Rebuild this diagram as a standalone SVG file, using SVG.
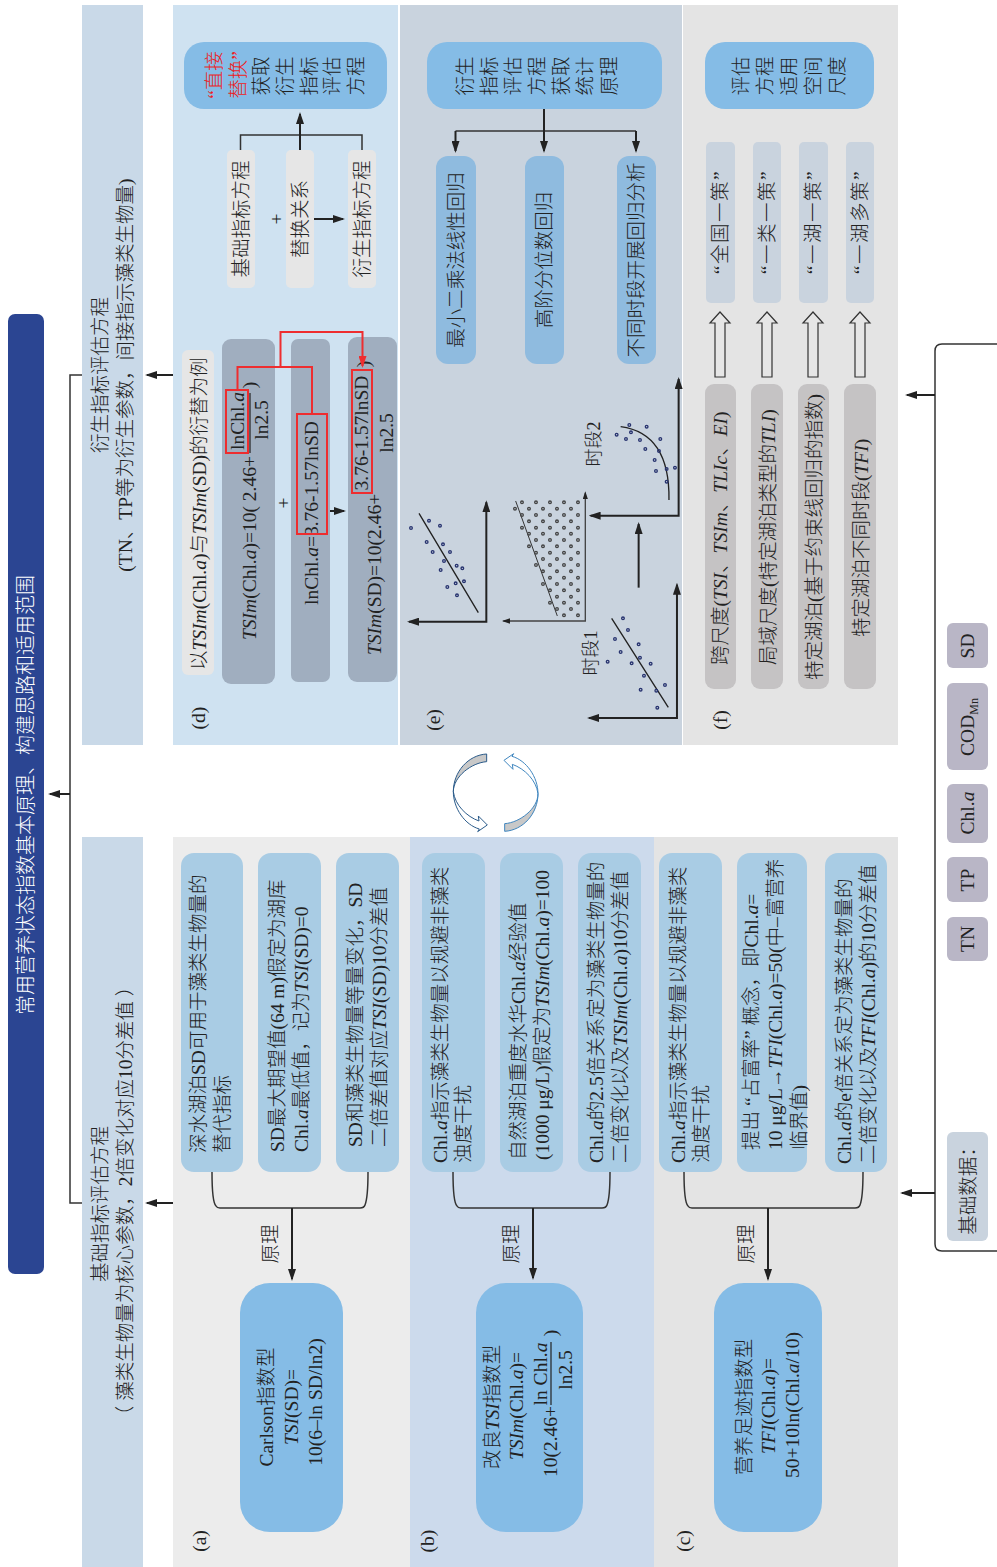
<svg xmlns="http://www.w3.org/2000/svg" width="997" height="1567" viewBox="0 0 997 1567">
<style>
text{font-family:"Liberation Serif","Noto Sans CJK SC",serif;font-size:19.5px;fill:#222;font-weight:300}
.m{text-anchor:middle}
.i{font-style:italic}
.red{fill:#ed1c24}
.w{fill:#fff}
.q{letter-spacing:1.5px}
.wire{fill:none;stroke:#333;stroke-width:1.5}
.arr{fill:none;stroke:#222;stroke-width:2;marker-end:url(#ah)}
.rl{fill:none;stroke:#ee2d2f;stroke-width:2}
.pb{fill:#85bce6}
.lb{fill:#a9cce4}
.eb{fill:#8fbbdf}
.lg{fill:#e6e6e6}
.sl{fill:#a0aebf}
.ch{fill:#c9d3de}
.gr{fill:#c5c3c4}
.pu{fill:#b9b6c6}
.d1{fill:none;stroke:#27336f;stroke-width:4}
.d2{fill:none;stroke:#444;stroke-width:4}
.ax{fill:none;stroke:#222;stroke-width:6;marker-end:url(#ah);marker-start:url(#ah)}
.ax2{fill:none;stroke:#444;stroke-width:4;marker-end:url(#ah);marker-start:url(#ah)}
.ax3{fill:none;stroke:#222;stroke-width:6;marker-end:url(#ah)}
</style>
<defs>
<marker id="ah" viewBox="0 0 12 8" refX="10" refY="4" markerWidth="6" markerHeight="4" orient="auto-start-reverse" markerUnits="strokeWidth"><path d="M0,0L12,4L0,8Z" fill="#222"/></marker>
<marker id="ahr" viewBox="0 0 12 8" refX="10" refY="4" markerWidth="6" markerHeight="4" orient="auto" markerUnits="strokeWidth"><path d="M0,0L12,4L0,8Z" fill="#ee2d2f"/></marker>
<path id="ha" d="M-5,377V323H-10L0,312L10,323H5V377Z" fill="#e6e6e6" stroke="#333" stroke-width="1.2"/>
<path id="cy" d="M170,42C115,45 70,95 70,155C70,110 125,68 170,65Z" fill="#c8c8c8"/>
<path id="cz" d="M70,155C70,205 105,255 148,267L143,275L172,255L145,228L147,243C110,230 75,195 70,155Z" fill="#fff"/>
</defs>

<g id="panels">
<rect x="8" y="314" width="36" height="960" rx="7" fill="#2b4592"/>
<rect x="82" y="5" width="61" height="740" fill="#c9d9e8"/>
<rect x="82" y="837" width="61" height="730" fill="#c9d9e8"/>
<rect x="173" y="837" width="237" height="730" fill="#ececec"/>
<rect x="410" y="837" width="244" height="730" fill="#ccdaec"/>
<rect x="654" y="837" width="244" height="730" fill="#e4e4e4"/>
<rect x="173" y="5" width="225" height="740" fill="#cfe2f1"/>
<rect x="400" y="5" width="282" height="740" fill="#c9d3de"/>
<rect x="683" y="5" width="215" height="740" fill="#e4e4e4"/>
</g>

<g id="cycle" transform="translate(430,740) scale(.3333)">
<g stroke="#2a5a8a" stroke-width="3"><use href="#cy"/><use href="#cz"/></g>
<g stroke="#3f86bf" stroke-width="3" transform="rotate(180 197 158)"><use href="#cy"/><use href="#cz"/></g>
</g>

<g id="title"><text class="m w" style="font-size:20px" transform="translate(33,795) rotate(-90)">常用营养状态指数基本原理、构建思路和适用范围</text></g>
<g id="head-d">
<text class="m" transform="translate(107,375) rotate(-90)">衍生指标评估方程</text>
<text class="m" transform="translate(132,375) rotate(-90)">(TN、TP等为衍生参数，间接指示藻类生物量)</text>
</g>
<g id="head-b">
<text class="m" transform="translate(107,1204) rotate(-90)">基础指标评估方程</text>
<text class="m" transform="translate(132,1201) rotate(-90)">（ 藻类生物量为核心参数，2倍变化对应10分差值 ）</text>
</g>

<g id="a">
<text class="m" transform="translate(206,1541) rotate(-90)">(a)</text>
<g id="a1"><rect class="lb" x="181" y="853" width="62" height="319" rx="13"/>
<text transform="translate(205,1153) rotate(-90)">深水湖泊SD可用于藻类生物量的</text>
<text transform="translate(229,1153) rotate(-90)">替代指标</text></g>
<g id="a2"><rect class="lb" x="258" y="853" width="63" height="319" rx="13"/>
<text transform="translate(284,1152) rotate(-90)">SD最大期望值(64 m)假定为湖库</text>
<text transform="translate(308,1152) rotate(-90)">Chl.<tspan class="i">a</tspan>最低值，记为<tspan class="i">TSI</tspan>(SD)=0</text></g>
<g id="a3"><rect class="lb" x="336" y="853" width="63" height="319" rx="13"/>
<text transform="translate(362,1147) rotate(-90)">SD和藻类生物量等量变化，SD</text>
<text transform="translate(386,1147) rotate(-90)">二倍差值对应<tspan class="i">TSI</tspan>(SD)10分差值</text></g>
<text class="m" transform="translate(277,1244) rotate(-90)">原理</text>
<g id="a4"><rect class="pb" x="240" y="1283" width="103" height="249" rx="30"/>
<text class="m" transform="translate(273,1407) rotate(-90)">Carlson指数型</text>
<text class="m" transform="translate(298,1407) rotate(-90)"><tspan class="i">TSI</tspan>(SD)=</text>
<text class="m" transform="translate(322,1402) rotate(-90)">10(6–ln SD/ln2)</text></g>
</g>

<g id="b">
<text class="m" transform="translate(434,1541) rotate(-90)">(b)</text>
<g id="b1"><rect class="lb" x="422" y="853" width="63" height="319" rx="13"/>
<text transform="translate(447,1163) rotate(-90)">Chl.<tspan class="i">a</tspan>指示藻类生物量以规避非藻类</text>
<text transform="translate(470,1163) rotate(-90)">浊度干扰</text></g>
<g id="b2"><rect class="lb" x="500" y="853" width="63" height="319" rx="13"/>
<text transform="translate(525,1160) rotate(-90)">自然湖泊重度水华Chl.<tspan class="i">a</tspan>经验值</text>
<text transform="translate(549,1160) rotate(-90)">(1000 μg/L)假定为<tspan class="i">TSIm</tspan>(Chl.<tspan class="i">a</tspan>)=100</text></g>
<g id="b3"><rect class="lb" x="578" y="853" width="63" height="319" rx="13"/>
<text transform="translate(603,1163) rotate(-90)">Chl.<tspan class="i">a</tspan>的2.5倍关系定为藻类生物量的</text>
<text transform="translate(627,1163) rotate(-90)">二倍变化以及<tspan class="i">TSIm</tspan>(Chl.<tspan class="i">a</tspan>)10分差值</text></g>
<text class="m" transform="translate(518,1244) rotate(-90)">原理</text>
<g id="b4"><rect class="pb" x="476" y="1283" width="107" height="249" rx="30"/>
<text class="m" transform="translate(499,1407) rotate(-90)">改良<tspan class="i">TSI</tspan>指数型</text>
<text class="m" transform="translate(523,1406) rotate(-90)"><tspan class="i">TSIm</tspan>(Chl.<tspan class="i">a</tspan>)=</text>
<text transform="translate(557,1477) rotate(-90)">10(2.46+</text>
<text class="m" transform="translate(547,1374) rotate(-90)">ln Chl.<tspan class="i">a</tspan></text>
<path d="M551,1342V1405" stroke="#222" stroke-width="1.2" fill="none"/>
<text class="m" transform="translate(572,1370) rotate(-90)">ln2.5</text>
<text class="m" transform="translate(557,1333) rotate(-90)">)</text></g>
</g>

<g id="c">
<text class="m" transform="translate(690,1541) rotate(-90)">(c)</text>
<g id="c1"><rect class="lb" x="659" y="853" width="63" height="319" rx="13"/>
<text transform="translate(685,1163) rotate(-90)">Chl.<tspan class="i">a</tspan>指示藻类生物量以规避非藻类</text>
<text transform="translate(708,1163) rotate(-90)">浊度干扰</text></g>
<g id="c2"><rect class="lb" x="737" y="853" width="70" height="319" rx="13"/>
<text transform="translate(758,1150) rotate(-90)">提出 “占富率” 概念，即Chl.<tspan class="i">a</tspan>=</text>
<text transform="translate(782,1150) rotate(-90)">10 μg/L→<tspan class="i">TFI</tspan>(Chl.<tspan class="i">a</tspan>)=50(中–富营养</text>
<text transform="translate(806,1150) rotate(-90)">临界值)</text></g>
<g id="c3"><rect class="lb" x="825" y="853" width="62" height="319" rx="13"/>
<text transform="translate(851,1164) rotate(-90)">Chl.<tspan class="i">a</tspan>的e倍关系定为藻类生物量的</text>
<text transform="translate(875,1164) rotate(-90)">二倍变化以及<tspan class="i">TFI</tspan>(Chl.<tspan class="i">a</tspan>)的10分差值</text></g>
<text class="m" transform="translate(753,1244) rotate(-90)">原理</text>
<g id="c4"><rect class="pb" x="714" y="1283" width="108" height="249" rx="30"/>
<text class="m" transform="translate(751,1407) rotate(-90)">营养足迹指数型</text>
<text class="m" transform="translate(775,1406) rotate(-90)"><tspan class="i">TFI</tspan>(Chl.<tspan class="i">a</tspan>)=</text>
<text class="m" transform="translate(799,1405) rotate(-90)">50+10ln(Chl.<tspan class="i">a</tspan>/10)</text></g>
</g>

<g id="d">
<text class="m" transform="translate(205,718) rotate(-90)">(d)</text>
<g id="d1"><rect class="pb" x="184" y="42" width="203" height="67" rx="20"/>
<text class="m red" transform="translate(221,75) rotate(-90)">“直接</text>
<text class="m red" transform="translate(245,75) rotate(-90)">替换”</text>
<text class="m" transform="translate(268,76) rotate(-90)">获取</text>
<text class="m" transform="translate(292,76) rotate(-90)">衍生</text>
<text class="m" transform="translate(316,76) rotate(-90)">指标</text>
<text class="m" transform="translate(339,76) rotate(-90)">评估</text>
<text class="m" transform="translate(363,76) rotate(-90)">方程</text></g>
<g id="d2"><rect class="lg" x="227" y="150" width="28" height="138" rx="5"/><text class="m" transform="translate(248,219) rotate(-90)">基础指标方程</text></g>
<g id="d3"><rect class="lg" x="286" y="150" width="28" height="138" rx="5"/><text class="m" transform="translate(307,219) rotate(-90)">替换关系</text></g>
<g id="d4"><rect class="lg" x="348" y="150" width="28" height="138" rx="5"/><text class="m" transform="translate(369,219) rotate(-90)">衍生指标方程</text></g>
<text class="m" transform="translate(282.500,219) rotate(-90)">+</text>
<g id="d5"><rect class="lg" x="182" y="350" width="32" height="325" rx="6"/>
<text transform="translate(206,670) rotate(-90)">以<tspan class="i">TSIm</tspan>(Chl.<tspan class="i">a</tspan>)与<tspan class="i">TSIm</tspan>(SD)的衍替为例</text></g>
<g id="d6"><rect class="sl" x="222" y="339" width="53" height="345" rx="9"/>
<text transform="translate(256,640) rotate(-90)"><tspan class="i">TSIm</tspan>(Chl.<tspan class="i">a</tspan>)=10( 2.46+</text>
<text class="m" transform="translate(244,421) rotate(-90)">lnChl.<tspan class="i">a</tspan></text>
<path d="M250,393V453" stroke="#222" stroke-width="1.2" fill="none"/>
<text class="m" transform="translate(268,420) rotate(-90)">ln2.5</text>
<text class="m" transform="translate(256,385) rotate(-90)">)</text></g>
<text class="m" transform="translate(289.500,503) rotate(-90)">+</text>
<g id="d7"><rect class="sl" x="291" y="339" width="39" height="343" rx="7"/>
<text transform="translate(318,605) rotate(-90)">lnChl.<tspan class="i">a</tspan>=3.76-1.57lnSD</text></g>
<g id="d8"><rect class="sl" x="348" y="337" width="49" height="345" rx="9"/>
<text transform="translate(381,655) rotate(-90)"><tspan class="i">TSIm</tspan>(SD)=10(2.46+</text>
<text class="m" transform="translate(368,433) rotate(-90)">3.76-1.57lnSD</text>
<path d="M372,373V493" stroke="#222" stroke-width="1.2" fill="none"/>
<text class="m" transform="translate(393,433) rotate(-90)">ln2.5</text>
<text class="m" transform="translate(370,364) rotate(-90)">)</text></g>
<g fill="none" stroke="#ee2d2f" stroke-width="2">
<rect x="226" y="390" width="22" height="63"/>
<rect x="297" y="414" width="30" height="120"/>
<rect x="352" y="370" width="20" height="123"/>
</g>
</g>

<g id="e">
<text class="m" transform="translate(440,720) rotate(-90)">(e)</text>
<g id="e1"><rect class="pb" x="427" y="42" width="235" height="67" rx="20"/>
<text class="m" transform="translate(472,76) rotate(-90)">衍生</text>
<text class="m" transform="translate(496,76) rotate(-90)">指标</text>
<text class="m" transform="translate(520,76) rotate(-90)">评估</text>
<text class="m" transform="translate(544,76) rotate(-90)">方程</text>
<text class="m" transform="translate(568,76) rotate(-90)">获取</text>
<text class="m" transform="translate(592,76) rotate(-90)">统计</text>
<text class="m" transform="translate(616,76) rotate(-90)">原理</text></g>
<g id="e2"><rect class="eb" x="436" y="156" width="40" height="208" rx="12"/><text class="m" transform="translate(463,260) rotate(-90)">最小二乘法线性回归</text></g>
<g id="e3"><rect class="eb" x="525" y="156" width="39" height="208" rx="12"/><text class="m" transform="translate(551,260) rotate(-90)">高阶分位数回归</text></g>
<g id="e4"><rect class="eb" x="617" y="156" width="39" height="208" rx="12"/><text class="m" transform="translate(643,260) rotate(-90)">不同时段开展回归分析</text></g>
<text class="m" style="font-size:18px" transform="translate(597,653) rotate(-90)">时段1</text>
<text class="m" style="font-size:18px" transform="translate(600,444) rotate(-90)">时段2</text>
<g id="plots" transform="translate(400,360) scale(.3333)">
<path class="ax" d="M259,427V785H27"/>
<path d="M57,460L235,758M635,775L805,1042" fill="none" stroke="#222" stroke-width="4"/>
<g class="d1"><circle cx="33" cy="504" r="4"/><circle cx="87" cy="482" r="4"/><circle cx="120" cy="497" r="4"/><circle cx="80" cy="546" r="4"/><circle cx="129" cy="553" r="4"/><circle cx="98" cy="576" r="4"/><circle cx="150" cy="576" r="4"/><circle cx="132" cy="603" r="4"/><circle cx="122" cy="630" r="4"/><circle cx="170" cy="617" r="4"/><circle cx="187" cy="625" r="4"/><circle cx="192" cy="664" r="4"/><circle cx="167" cy="670" r="4"/><circle cx="142" cy="681" r="4"/><circle cx="171" cy="706" r="4"/></g>
<path class="ax2" d="M556,398V783H310"/>
<path d="M347,423L472,768" fill="none" stroke="#333" stroke-width="3"/>
<g class="d2">
<circle cx="534" cy="427" r="4"/><circle cx="534" cy="465" r="4"/><circle cx="534" cy="503" r="4"/><circle cx="534" cy="540" r="4"/><circle cx="534" cy="578" r="4"/><circle cx="534" cy="615" r="4"/><circle cx="534" cy="653" r="4"/><circle cx="534" cy="691" r="4"/><circle cx="534" cy="728" r="4"/><circle cx="534" cy="766" r="4"/>
<circle cx="513" cy="446" r="4"/><circle cx="513" cy="484" r="4"/><circle cx="513" cy="521" r="4"/><circle cx="513" cy="559" r="4"/><circle cx="513" cy="597" r="4"/><circle cx="513" cy="634" r="4"/><circle cx="513" cy="672" r="4"/><circle cx="513" cy="710" r="4"/><circle cx="513" cy="747" r="4"/>
<circle cx="492" cy="427" r="4"/><circle cx="492" cy="465" r="4"/><circle cx="492" cy="503" r="4"/><circle cx="492" cy="540" r="4"/><circle cx="492" cy="578" r="4"/><circle cx="492" cy="615" r="4"/><circle cx="492" cy="653" r="4"/><circle cx="492" cy="691" r="4"/><circle cx="492" cy="728" r="4"/><circle cx="492" cy="766" r="4"/>
<circle cx="471" cy="446" r="4"/><circle cx="471" cy="484" r="4"/><circle cx="471" cy="521" r="4"/><circle cx="471" cy="559" r="4"/><circle cx="471" cy="597" r="4"/><circle cx="471" cy="634" r="4"/><circle cx="471" cy="672" r="4"/><circle cx="471" cy="710" r="4"/><circle cx="471" cy="747" r="4"/>
<circle cx="450" cy="427" r="4"/><circle cx="450" cy="465" r="4"/><circle cx="450" cy="503" r="4"/><circle cx="450" cy="540" r="4"/><circle cx="450" cy="578" r="4"/><circle cx="450" cy="615" r="4"/><circle cx="450" cy="653" r="4"/><circle cx="450" cy="691" r="4"/><circle cx="450" cy="728" r="4"/>
<circle cx="429" cy="446" r="4"/><circle cx="429" cy="484" r="4"/><circle cx="429" cy="521" r="4"/><circle cx="429" cy="559" r="4"/><circle cx="429" cy="597" r="4"/><circle cx="429" cy="634" r="4"/><circle cx="429" cy="672" r="4"/>
<circle cx="408" cy="427" r="4"/><circle cx="408" cy="465" r="4"/><circle cx="408" cy="503" r="4"/><circle cx="408" cy="540" r="4"/><circle cx="408" cy="578" r="4"/><circle cx="408" cy="615" r="4"/>
<circle cx="387" cy="446" r="4"/><circle cx="387" cy="484" r="4"/><circle cx="387" cy="521" r="4"/><circle cx="387" cy="559" r="4"/>
<circle cx="366" cy="427" r="4"/><circle cx="366" cy="465" r="4"/><circle cx="366" cy="503" r="4"/>
<circle cx="345" cy="446" r="4"/>
</g>
<path class="ax" d="M831,674V1074H567"/>
<g class="d1"><circle cx="669" cy="775" r="4"/><circle cx="684" cy="810" r="4"/><circle cx="645" cy="837" r="4"/><circle cx="716" cy="853" r="4"/><circle cx="662" cy="876" r="4"/><circle cx="720" cy="893" r="4"/><circle cx="623" cy="905" r="4"/><circle cx="695" cy="910" r="4"/><circle cx="752" cy="911" r="4"/><circle cx="732" cy="947" r="4"/><circle cx="795" cy="975" r="4"/><circle cx="722" cy="989" r="4"/><circle cx="769" cy="992" r="4"/><circle cx="772" cy="1043" r="4"/></g>
<path class="ax" d="M836,57V467H572"/>
<path d="M662,200Q810,220 807,420" fill="none" stroke="#222" stroke-width="4"/>
<g class="d1"><circle cx="688" cy="195" r="4"/><circle cx="740" cy="200" r="4"/><circle cx="650" cy="224" r="4"/><circle cx="693" cy="217" r="4"/><circle cx="678" cy="237" r="4"/><circle cx="720" cy="240" r="4"/><circle cx="781" cy="237" r="4"/><circle cx="736" cy="267" r="4"/><circle cx="777" cy="273" r="4"/><circle cx="764" cy="300" r="4"/><circle cx="800" cy="327" r="4"/><circle cx="825" cy="323" r="4"/><circle cx="768" cy="333" r="4"/><circle cx="800" cy="365" r="4"/></g>
<path class="ax3" d="M716,683V492"/>
</g>
</g>

<g id="f">
<text class="m" transform="translate(727,720) rotate(-90)">(f)</text>
<g id="f1"><rect class="pb" x="705" y="42" width="169" height="67" rx="20"/>
<text class="m" transform="translate(748,76) rotate(-90)">评估</text>
<text class="m" transform="translate(772,76) rotate(-90)">方程</text>
<text class="m" transform="translate(796,76) rotate(-90)">适用</text>
<text class="m" transform="translate(820,76) rotate(-90)">空间</text>
<text class="m" transform="translate(844,76) rotate(-90)">尺度</text></g>
<g id="f2"><rect class="ch" x="706" y="142" width="29" height="161" rx="5"/><text class="m q" transform="translate(727,222) rotate(-90)">“全国一策”</text></g>
<g id="f3"><rect class="ch" x="753" y="142" width="28" height="161" rx="5"/><text class="m q" transform="translate(774,222) rotate(-90)">“一类一策”</text></g>
<g id="f4"><rect class="ch" x="799" y="142" width="29" height="161" rx="5"/><text class="m q" transform="translate(820,222) rotate(-90)">“一湖一策”</text></g>
<g id="f5"><rect class="ch" x="846" y="142" width="28" height="161" rx="5"/><text class="m q" transform="translate(867,222) rotate(-90)">“一湖多策”</text></g>
<g id="f6"><rect class="gr" x="705" y="384" width="31" height="305" rx="9"/>
<text transform="translate(727,665) rotate(-90)">跨尺度(<tspan class="i">TSI</tspan>、<tspan class="i">TSIm</tspan>、<tspan class="i">TLIc</tspan>、<tspan class="i">EI</tspan>)</text></g>
<g id="f7"><rect class="gr" x="751" y="384" width="32" height="305" rx="9"/>
<text transform="translate(775,665) rotate(-90)">局域尺度(特定湖泊类型的<tspan class="i">TLI</tspan>)</text></g>
<g id="f8"><rect class="gr" x="798" y="384" width="31" height="305" rx="9"/>
<text transform="translate(821,680) rotate(-90)">特定湖泊(基于约束线回归的指数)</text></g>
<g id="f9"><rect class="gr" x="844" y="384" width="32" height="305" rx="9"/>
<text transform="translate(868,637) rotate(-90)">特定湖泊不同时段(<tspan class="i">TFI</tspan>)</text></g>
</g>

<g id="data">
<g id="g0"><rect class="ch" x="947" y="1132" width="41" height="109" rx="6"/><text class="m" transform="translate(975,1186) rotate(-90)">基础数据：</text></g>
<g id="g1"><rect class="pu" x="947" y="917" width="41" height="44" rx="6"/><text class="m" transform="translate(974,939) rotate(-90)">TN</text></g>
<g id="g2"><rect class="pu" x="947" y="857" width="41" height="45" rx="6"/><text class="m" transform="translate(974,880) rotate(-90)">TP</text></g>
<g id="g3"><rect class="pu" x="947" y="784" width="41" height="59" rx="6"/><text class="m" transform="translate(974,813) rotate(-90)">Chl.<tspan class="i">a</tspan></text></g>
<g id="g4"><rect class="pu" x="947" y="683" width="41" height="87" rx="6"/><text class="m" transform="translate(974,727) rotate(-90)">COD<tspan dy="4" style="font-size:12px">Mn</tspan></text></g>
<g id="g5"><rect class="pu" x="947" y="623" width="41" height="45" rx="6"/><text class="m" transform="translate(974,646) rotate(-90)">SD</text></g>
</g>

<g id="connectors">
<path class="wire" d="M82,375H70V1203H82"/>
<path class="arr" d="M70,794H50"/>
<path class="arr" d="M173,375H147"/>
<path class="arr" d="M173,1203H147"/>
<path class="wire" d="M997,344H942Q935,344 935,351V1244Q935,1251 942,1251H997"/>
<path class="arr" d="M935,395H907"/>
<path class="arr" d="M935,1193H902"/>
<path class="wire" d="M212,1172C212,1190 213,1203 216,1206Q217,1208 220,1208H360Q364,1208 365,1205C367,1200 368,1190 368,1172"/>
<path class="arr" d="M292,1208V1279"/>
<path class="wire" d="M453,1172C453,1190 454,1203 457,1206Q458,1208 461,1208H602Q606,1208 607,1205C609,1200 610,1190 610,1172"/>
<path class="arr" d="M533,1208V1278"/>
<path class="wire" d="M684,1172C684,1190 685,1203 688,1206Q689,1208 692,1208H855Q859,1208 860,1205C862,1200 863,1190 863,1172"/>
<path class="arr" d="M768,1208V1279"/>
<path class="wire" d="M240.500,150V135H362V150"/>
<path class="arr" d="M300,150V114"/>
<path class="arr" d="M314,219H343"/>
<path class="arr" d="M330,511H344"/>
<path d="M455.500,131H636" class="wire"/>
<path class="arr" d="M544,109V151"/>
<path class="arr" d="M455.500,131V151"/>
<path class="arr" d="M636,131V151"/>
<use href="#ha" x="720"/><use href="#ha" x="767"/><use href="#ha" x="813"/><use href="#ha" x="860"/>
<path class="rl" d="M237.500,390V367H312V414"/>
<path class="rl" style="marker-end:url(#ahr)" d="M280.500,367V332H362.500V366"/>
</g>
</svg>
